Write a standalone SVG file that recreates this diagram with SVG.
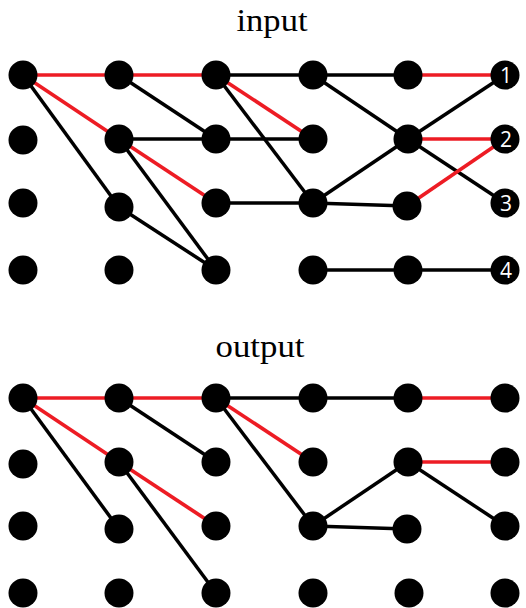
<svg xmlns="http://www.w3.org/2000/svg" width="526" height="608" viewBox="0 0 526 608">
<style>
.e{stroke:#000;stroke-width:3.5;fill:none}
.r{stroke:#ED1C24;stroke-width:3.7;fill:none}
.n{fill:#000}
.t{font-family:"Liberation Serif",serif;font-size:31px;fill:#000;text-anchor:middle}
.l{font-family:"Open Sans","Liberation Sans",sans-serif;font-size:21px;fill:#fff;text-anchor:middle}
</style>
<rect width="526" height="608" fill="#fff"/>
<text class="t" x="272" y="31" textLength="71" lengthAdjust="spacingAndGlyphs">input</text>
<text class="t" x="260" y="357" textLength="89" lengthAdjust="spacingAndGlyphs">output</text>
<g id="connectors">
<g id="input-edges">
<line class="e" x1="23" y1="75" x2="119" y2="207"/>
<line class="e" x1="119" y1="75" x2="216" y2="139"/>
<line class="e" x1="119" y1="139" x2="216" y2="139"/>
<line class="e" x1="119" y1="139" x2="216" y2="270"/>
<line class="e" x1="119" y1="207" x2="216" y2="270"/>
<line class="e" x1="216" y1="75" x2="313" y2="75"/>
<line class="e" x1="216" y1="75" x2="313" y2="203"/>
<line class="e" x1="216" y1="139" x2="313" y2="139"/>
<line class="e" x1="216" y1="203" x2="313" y2="203"/>
<line class="e" x1="313" y1="75" x2="408" y2="75"/>
<line class="e" x1="313" y1="75" x2="408" y2="139"/>
<line class="e" x1="313" y1="203" x2="408" y2="139"/>
<line class="e" x1="313" y1="203" x2="407" y2="206"/>
<line class="e" x1="408" y1="139" x2="505" y2="75"/>
<line class="e" x1="408" y1="139" x2="505" y2="203"/>
<line class="e" x1="313" y1="270" x2="408" y2="270"/>
<line class="e" x1="408" y1="270" x2="505" y2="270"/>
<line class="r" x1="23" y1="75" x2="119" y2="75"/>
<line class="r" x1="119" y1="75" x2="216" y2="75"/>
<line class="r" x1="23" y1="75" x2="119" y2="139"/>
<line class="r" x1="119" y1="139" x2="216" y2="203"/>
<line class="r" x1="216" y1="75" x2="313" y2="139"/>
<line class="r" x1="408" y1="75" x2="505" y2="75"/>
<line class="r" x1="408" y1="139" x2="505" y2="139"/>
<line class="r" x1="407" y1="206" x2="505" y2="139"/>
</g>
<g id="output-edges">
<line class="e" x1="23" y1="398" x2="119" y2="529"/>
<line class="e" x1="119" y1="398" x2="216" y2="462"/>
<line class="e" x1="119" y1="462" x2="216" y2="593"/>
<line class="e" x1="216" y1="398" x2="313" y2="398"/>
<line class="e" x1="216" y1="398" x2="313" y2="526"/>
<line class="e" x1="313" y1="398" x2="408" y2="398"/>
<line class="e" x1="313" y1="526" x2="408" y2="462"/>
<line class="e" x1="313" y1="526" x2="407" y2="529"/>
<line class="e" x1="408" y1="462" x2="505" y2="526"/>
<line class="r" x1="23" y1="398" x2="119" y2="398"/>
<line class="r" x1="119" y1="398" x2="216" y2="398"/>
<line class="r" x1="23" y1="398" x2="119" y2="462"/>
<line class="r" x1="119" y1="462" x2="216" y2="526"/>
<line class="r" x1="216" y1="398" x2="313" y2="462"/>
<line class="r" x1="408" y1="398" x2="505" y2="398"/>
<line class="r" x1="408" y1="462" x2="505" y2="462"/>
</g>
</g>
<g id="input-nodes">
<g id="in-0-0"><circle class="n" cx="23" cy="75" r="14.5"/></g>
<g id="in-0-1"><circle class="n" cx="23" cy="140" r="14.5"/></g>
<g id="in-0-2"><circle class="n" cx="23" cy="203" r="14.5"/></g>
<g id="in-0-3"><circle class="n" cx="23" cy="270" r="14.5"/></g>
<g id="in-1-0"><circle class="n" cx="119" cy="75" r="14.5"/></g>
<g id="in-1-1"><circle class="n" cx="119" cy="139" r="14.5"/></g>
<g id="in-1-2"><circle class="n" cx="119" cy="207" r="14.5"/></g>
<g id="in-1-3"><circle class="n" cx="119" cy="270" r="14.5"/></g>
<g id="in-2-0"><circle class="n" cx="216" cy="75" r="14.5"/></g>
<g id="in-2-1"><circle class="n" cx="216" cy="139" r="14.5"/></g>
<g id="in-2-2"><circle class="n" cx="216" cy="203" r="14.5"/></g>
<g id="in-2-3"><circle class="n" cx="216" cy="270" r="14.5"/></g>
<g id="in-3-0"><circle class="n" cx="313" cy="75" r="14.5"/></g>
<g id="in-3-1"><circle class="n" cx="313" cy="139" r="14.5"/></g>
<g id="in-3-2"><circle class="n" cx="313" cy="203" r="14.5"/></g>
<g id="in-3-3"><circle class="n" cx="313" cy="270" r="14.5"/></g>
<g id="in-4-0"><circle class="n" cx="408" cy="75" r="14.5"/></g>
<g id="in-4-1"><circle class="n" cx="408" cy="139" r="14.5"/></g>
<g id="in-4-2"><circle class="n" cx="407" cy="206" r="14.5"/></g>
<g id="in-4-3"><circle class="n" cx="408" cy="270" r="14.5"/></g>
<g id="in-5-0"><circle class="n" cx="505" cy="75" r="14.5"/><text class="l" x="506" y="82.5">1</text></g>
<g id="in-5-1"><circle class="n" cx="505" cy="139" r="14.5"/><text class="l" x="506" y="146.5">2</text></g>
<g id="in-5-2"><circle class="n" cx="505" cy="203" r="14.5"/><text class="l" x="506" y="210.5">3</text></g>
<g id="in-5-3"><circle class="n" cx="505" cy="270" r="14.5"/><text class="l" x="506" y="277.5">4</text></g>
</g>
<g id="output-nodes">
<g id="out-0-0"><circle class="n" cx="23" cy="398" r="14.5"/></g>
<g id="out-0-1"><circle class="n" cx="23" cy="464" r="14.5"/></g>
<g id="out-0-2"><circle class="n" cx="23" cy="526" r="14.5"/></g>
<g id="out-0-3"><circle class="n" cx="23" cy="593" r="14.5"/></g>
<g id="out-1-0"><circle class="n" cx="119" cy="398" r="14.5"/></g>
<g id="out-1-1"><circle class="n" cx="119" cy="462" r="14.5"/></g>
<g id="out-1-2"><circle class="n" cx="119" cy="529" r="14.5"/></g>
<g id="out-1-3"><circle class="n" cx="119" cy="593" r="14.5"/></g>
<g id="out-2-0"><circle class="n" cx="216" cy="398" r="14.5"/></g>
<g id="out-2-1"><circle class="n" cx="216" cy="462" r="14.5"/></g>
<g id="out-2-2"><circle class="n" cx="216" cy="526" r="14.5"/></g>
<g id="out-2-3"><circle class="n" cx="216" cy="593" r="14.5"/></g>
<g id="out-3-0"><circle class="n" cx="313" cy="398" r="14.5"/></g>
<g id="out-3-1"><circle class="n" cx="313" cy="462" r="14.5"/></g>
<g id="out-3-2"><circle class="n" cx="313" cy="526" r="14.5"/></g>
<g id="out-3-3"><circle class="n" cx="313" cy="593" r="14.5"/></g>
<g id="out-4-0"><circle class="n" cx="408" cy="398" r="14.5"/></g>
<g id="out-4-1"><circle class="n" cx="408" cy="462" r="14.5"/></g>
<g id="out-4-2"><circle class="n" cx="407" cy="529" r="14.5"/></g>
<g id="out-4-3"><circle class="n" cx="409" cy="593" r="14.5"/></g>
<g id="out-5-0"><circle class="n" cx="505" cy="398" r="14.5"/></g>
<g id="out-5-1"><circle class="n" cx="505" cy="462" r="14.5"/></g>
<g id="out-5-2"><circle class="n" cx="505" cy="526" r="14.5"/></g>
<g id="out-5-3"><circle class="n" cx="505" cy="593" r="14.5"/></g>
</g>
</svg>
